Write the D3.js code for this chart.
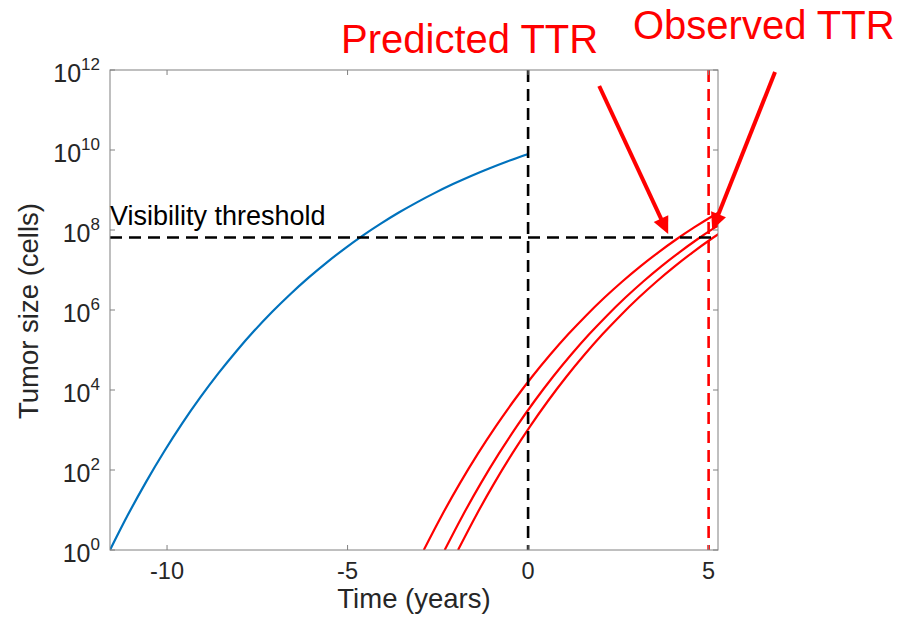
<!DOCTYPE html>
<html>
<head>
<meta charset="utf-8">
<script src="https://cdn.jsdelivr.net/npm/d3@7"></script>
<style>
  html, body { margin: 0; padding: 0; background: #fff; }
  svg { display: block; font-family: "Liberation Sans", Arial, Helvetica, sans-serif; }
</style>
</head>
<body>
<svg id="chart" width="910" height="618"></svg>
<script>
// Tumor growth before and after surgery (log10 of cell count vs time in years)

// Pre-surgery growth curve
const preTime = [-11.58, -11.08, -10.58, -10.08, -9.58, -9.08, -8.58, -8.08, -7.58, -7.08,
                 -6.58, -6.08, -5.58, -5.08, -4.58, -4.08, -3.58, -3.08, -2.58, -2.08,
                 -1.58, -1.08, -0.58, -0.08, 0];
const preLog10 = [0, 0.885, 1.704, 2.462, 3.165, 3.813, 4.414, 4.970, 5.485, 5.961,
                  6.401, 6.809, 7.186, 7.536, 7.859, 8.158, 8.436, 8.691, 8.928, 9.147,
                  9.351, 9.538, 9.713, 9.874, 9.9];

// Post-surgery regrowth curves (three residual-size scenarios)
const regrowTimeA = [-2.89, -2.39, -1.89, -1.39, -0.89, -0.39, 0.11, 0.61, 1.11, 1.61,
                     2.11, 2.61, 3.11, 3.61, 4.11, 4.61, 5.11, 5.61];
const regrowLog10A = [0, 0.864, 1.665, 2.408, 3.097, 3.737, 4.331, 4.880, 5.392, 5.865,
                      6.305, 6.713, 7.091, 7.442, 7.769, 8.070, 8.351, 8.611];
const regrowTimeB = [-2.31, -1.81, -1.31, -0.81, -0.31, 0.19, 0.69, 1.19, 1.69, 2.19,
                     2.69, 3.19, 3.69, 4.19, 4.69, 5.19, 5.69];
const regrowLog10B = [0, 0.864, 1.665, 2.408, 3.097, 3.737, 4.331, 4.880, 5.392, 5.865,
                      6.305, 6.713, 7.091, 7.442, 7.769, 8.070, 8.351];
const regrowTimeC = [-1.94, -1.44, -0.94, -0.44, 0.06, 0.56, 1.06, 1.56, 2.06, 2.56,
                     3.06, 3.56, 4.06, 4.56, 5.06, 5.56];
const regrowLog10C = [0, 0.864, 1.665, 2.408, 3.097, 3.737, 4.331, 4.880, 5.392, 5.865,
                      6.305, 6.713, 7.091, 7.442, 7.769, 8.070];

// Reference lines
const visibilityThreshold = 6.5e7;   // cells
const surgeryTime = 0;               // years
const observedTTR = 5;               // years

// Axis ticks
const xTicks = [-10, -5, 0, 5];
const yTickExponents = [0, 2, 4, 6, 8, 10, 12];

(function draw() {
  const svg = d3.select("#chart");
  const W = 910, H = 618;
  const pLeft = 110, pRight = 718, pTop = 70, pBottom = 550;

  svg.append("rect").attr("width", W).attr("height", H).attr("fill", "#fff");

  const x = d3.scaleLinear().domain([-11.58, 5.26]).range([pLeft, pRight]);
  const y = d3.scaleLog().domain([1, 1e12]).range([pBottom, pTop]);

  const toPoints = (ts, ls) => ts.map((t, i) => [t, Math.pow(10, ls[i])]);
  const line = d3.line().x(d => x(d[0])).y(d => y(d[1])).curve(d3.curveMonotoneX);

  svg.append("clipPath").attr("id", "plotClip")
    .append("rect").attr("x", pLeft).attr("y", pTop).attr("width", pRight - pLeft).attr("height", pBottom - pTop);

  const plot = svg.append("g").attr("clip-path", "url(#plotClip)");

  plot.append("path")
    .attr("d", line(toPoints(preTime, preLog10)))
    .attr("fill", "none").attr("stroke", "#0072BD").attr("stroke-width", 2.2);

  [[regrowTimeA, regrowLog10A], [regrowTimeB, regrowLog10B], [regrowTimeC, regrowLog10C]].forEach(([ts, ls]) => {
    plot.append("path")
      .attr("d", line(toPoints(ts, ls)))
      .attr("fill", "none").attr("stroke", "#FF0000").attr("stroke-width", 2.2);
  });

  // Dashed reference lines
  const dash = "12,7";
  plot.append("line")
    .attr("x1", x(surgeryTime)).attr("x2", x(surgeryTime))
    .attr("y1", y(1e12)).attr("y2", y(1))
    .attr("stroke", "#000").attr("stroke-width", 2.6).attr("stroke-dasharray", dash);
  plot.append("line")
    .attr("x1", x.range()[0]).attr("x2", x.range()[1])
    .attr("y1", y(visibilityThreshold)).attr("y2", y(visibilityThreshold))
    .attr("stroke", "#000").attr("stroke-width", 2.6).attr("stroke-dasharray", dash);
  plot.append("line")
    .attr("x1", x(observedTTR)).attr("x2", x(observedTTR))
    .attr("y1", y(1e12)).attr("y2", y(1))
    .attr("stroke", "#FF0000").attr("stroke-width", 2.6).attr("stroke-dasharray", dash);

  // Axes box with inward ticks on all four sides
  const axisColor = "#808080";
  const textColor = "#262626";
  const axes = svg.append("g");
  axes.append("rect")
    .attr("x", pLeft).attr("y", pTop).attr("width", pRight - pLeft).attr("height", pBottom - pTop)
    .attr("fill", "none").attr("stroke", axisColor).attr("stroke-width", 1);

  const tickLen = 5;
  xTicks.forEach(t => {
    const px = x(t);
    axes.append("line").attr("x1", px).attr("x2", px).attr("y1", pBottom).attr("y2", pBottom - tickLen)
      .attr("stroke", axisColor);
    axes.append("line").attr("x1", px).attr("x2", px).attr("y1", pTop).attr("y2", pTop + tickLen)
      .attr("stroke", axisColor);
    axes.append("text").attr("x", px).attr("y", pBottom + 29)
      .attr("text-anchor", "middle").attr("font-size", 23.5).attr("fill", textColor)
      .text(String(t));
  });

  yTickExponents.forEach(e => {
    const py = y(Math.pow(10, e));
    axes.append("line").attr("x1", pLeft).attr("x2", pLeft + tickLen).attr("y1", py).attr("y2", py)
      .attr("stroke", axisColor);
    axes.append("line").attr("x1", pRight).attr("x2", pRight - tickLen).attr("y1", py).attr("y2", py)
      .attr("stroke", axisColor);
    const lbl = axes.append("text").attr("x", pLeft - 10).attr("y", py + 12)
      .attr("text-anchor", "end").attr("font-size", 25).attr("fill", textColor);
    lbl.append("tspan").text("10");
    lbl.append("tspan").attr("dy", -12).attr("font-size", 17).text(String(e));
  });

  // Axis titles
  svg.append("text")
    .attr("x", (pLeft + pRight) / 2).attr("y", 608)
    .attr("text-anchor", "middle").attr("font-size", 27.5).attr("fill", textColor)
    .text("Time (years)");
  svg.append("text")
    .attr("transform", `translate(38,${(pTop + pBottom) / 2 + 1}) rotate(-90)`)
    .attr("text-anchor", "middle").attr("font-size", 27.5).attr("fill", textColor)
    .text("Tumor size (cells)");

  // Threshold label
  svg.append("text")
    .attr("x", pLeft).attr("y", 225)
    .attr("font-size", 27).attr("fill", "#000")
    .text("Visibility threshold");

  // Annotation arrows (data coordinates)
  function arrow(t0, v0, t1, v1) {
    const x0 = x(t0), y0 = y(v0), x1 = x(t1), y1 = y(v1);
    const dx = x1 - x0, dy = y1 - y0, len = Math.hypot(dx, dy);
    const ux = dx / len, uy = dy / len;
    const headL = 17, headW = 16;
    const bx = x1 - ux * headL, by = y1 - uy * headL;
    svg.append("line")
      .attr("x1", x0).attr("y1", y0).attr("x2", bx + ux * 2).attr("y2", by + uy * 2)
      .attr("stroke", "#FF0000").attr("stroke-width", 4);
    svg.append("path")
      .attr("d", `M${x1},${y1}L${bx - uy * headW / 2},${by + ux * headW / 2}L${bx + uy * headW / 2},${by - ux * headW / 2}Z`)
      .attr("fill", "#FF0000");
  }
  arrow(1.97, Math.pow(10, 11.6), 3.88, Math.pow(10, 7.9));
  arrow(6.84, Math.pow(10, 11.95), 5.1, Math.pow(10, 8.0));

  // Annotation labels
  svg.append("text")
    .attr("x", 341).attr("y", 53)
    .attr("font-size", 40).attr("fill", "#FF0000")
    .text("Predicted TTR");
  svg.append("text")
    .attr("x", 633).attr("y", 39)
    .attr("font-size", 40).attr("fill", "#FF0000")
    .text("Observed TTR");
})();
</script>
</body>
</html>
